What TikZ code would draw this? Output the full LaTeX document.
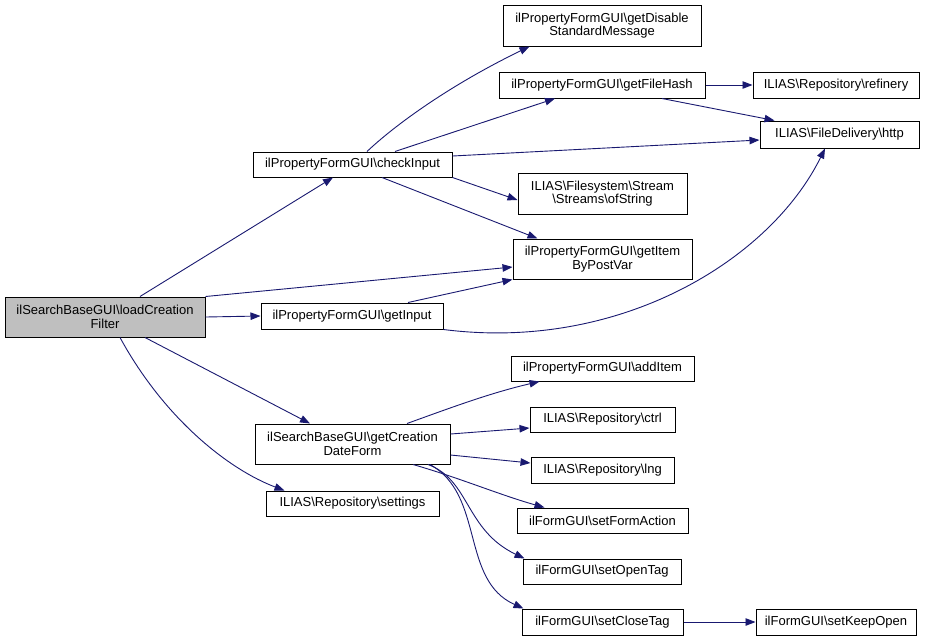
\documentclass[tikz,border=0pt]{standalone}
\usepackage{fontspec}
\setmainfont{Liberation Sans}
\usetikzlibrary{arrows.meta}
\definecolor{edgecol}{HTML}{191970}
\definecolor{rootfill}{HTML}{BFBFBF}
\tikzset{
  box/.style={draw=black, line width=1pt, fill=white, rectangle, inner sep=0pt, align=center,
    font=\fontsize{13}{13.6}\selectfont},
  rootbox/.style={box, fill=rootfill},
  edge/.style={draw=edgecol, line width=0.9pt, -{Triangle[length=10pt,width=7.5pt]}},
}
\begin{document}
\begin{tikzpicture}[x=1pt,y=-1pt]
\useasboundingbox (0,0) rectangle (928,641);
% nodes
\node[rootbox, minimum width=200pt, minimum height=40pt] (load) at (105,317) {ilSearchBaseGUI\textbackslash loadCreation\\Filter};
\node[box, minimum width=199pt, minimum height=25pt] (check) at (352.5,164.5) {ilPropertyFormGUI\textbackslash checkInput};
\node[box, minimum width=179pt, minimum height=40pt] (item) at (602.5,259) {ilPropertyFormGUI\textbackslash getItem\\ByPostVar};
\node[box, minimum width=169pt, minimum height=41pt] (ofstr) at (602.5,193.5) {ILIAS\textbackslash Filesystem\textbackslash Stream\\\textbackslash Streams\textbackslash ofString};
\node[box, minimum width=182pt, minimum height=26pt] (input) at (352,316) {ilPropertyFormGUI\textbackslash getInput};
\node[box, minimum width=195pt, minimum height=40pt] (creation) at (352.5,444) {ilSearchBaseGUI\textbackslash getCreation\\DateForm};
\node[box, minimum width=173pt, minimum height=25pt] (settings) at (352.5,503.5) {ILIAS\textbackslash Repository\textbackslash settings};
\node[box, minimum width=183pt, minimum height=25pt] (additem) at (602.5,368.5) {ilPropertyFormGUI\textbackslash addItem};
\node[box, minimum width=145pt, minimum height=25pt] (ctrl) at (602.5,419.5) {ILIAS\textbackslash Repository\textbackslash ctrl};
\node[box, minimum width=143pt, minimum height=26pt] (lng) at (602.5,470) {ILIAS\textbackslash Repository\textbackslash lng};
\node[box, minimum width=171pt, minimum height=25pt] (action) at (602.5,520.5) {ilFormGUI\textbackslash setFormAction};
\node[box, minimum width=158pt, minimum height=25pt] (opentag) at (602,571.5) {ilFormGUI\textbackslash setOpenTag};
\node[box, minimum width=161pt, minimum height=26pt] (closetag) at (602.5,622) {ilFormGUI\textbackslash setCloseTag};
\node[box, minimum width=160pt, minimum height=26pt] (keepopen) at (836,622) {ilFormGUI\textbackslash setKeepOpen};
\node[box, minimum width=198pt, minimum height=41pt] (disable) at (602,25.5) {ilPropertyFormGUI\textbackslash getDisable\\StandardMessage};
\node[box, minimum width=206pt, minimum height=26pt] (hash) at (602,85) {ilPropertyFormGUI\textbackslash getFileHash};
\node[box, minimum width=166pt, minimum height=26pt] (refinery) at (836,85) {ILIAS\textbackslash Repository\textbackslash refinery};
\node[box, minimum width=159pt, minimum height=27pt] (http) at (839.5,134.5) {ILIAS\textbackslash FileDelivery\textbackslash http};
% edges from load
\draw[edge] ([xshift=35pt]load.north) -- ([xshift=-19.5pt]check.south);
\draw[edge] (load.north east) -- ([yshift=-8pt]item.west);
\draw[edge] (load.east) -- (input.west);
\draw[edge] ([xshift=40pt]load.south) -- ([xshift=-42.5pt]creation.north);
\draw[edge] ([xshift=15pt]load.south) .. controls (165,420) and (230,470) .. ([xshift=19pt]settings.north west);
% edges from checkInput
\draw[edge] ([xshift=14.5pt]check.north) .. controls (395,125) and (450,85) .. ([xshift=27pt]disable.south west);
\draw[edge] ([xshift=42.5pt]check.north) -- ([xshift=-47pt]hash.south);
\draw[edge] ([yshift=8.5pt]check.east) -- ([yshift=-5.5pt]http.west);
\draw[edge] (check.south east) -- ([yshift=-6.5pt]ofstr.west);
\draw[edge] ([xshift=29.5pt]check.south) -- ([xshift=25pt]item.north west);
% edges from getInput
\draw[edge] ([xshift=56pt]input.north) -- (item.south west);
\draw[edge] (input.south east) .. controls (620,352) and (770,260) .. ([xshift=-14.5pt]http.south);
% edges from getFileHash
\draw[edge] (hash.east) -- (refinery.west);
\draw[edge] ([xshift=60pt]hash.south) -- ([xshift=15pt]http.north west);
% edges from getCreation
\draw[edge] ([xshift=54.5pt]creation.north) .. controls (450,408) and (490,393) .. ([xshift=29pt]additem.south west);
\draw[edge] ([yshift=10pt]creation.east) -- ([yshift=-8.5pt]ctrl.west);
\draw[edge] ([yshift=-11pt]creation.east) -- ([yshift=7pt]lng.west);
\draw[edge] ([xshift=60.5pt]creation.south) .. controls (460,478) and (500,495) .. ([xshift=28pt]action.north west);
\draw[edge] ([xshift=75.5pt]creation.south) .. controls (470,480) and (465,530) .. ([xshift=2pt]opentag.north west);
\draw[edge] ([xshift=77.5pt]creation.south) .. controls (485,495) and (460,580) .. ([xshift=2pt]closetag.north west);
% edge from setCloseTag
\draw[edge] (closetag.east) -- (keepopen.west);
\end{tikzpicture}
\end{document}
